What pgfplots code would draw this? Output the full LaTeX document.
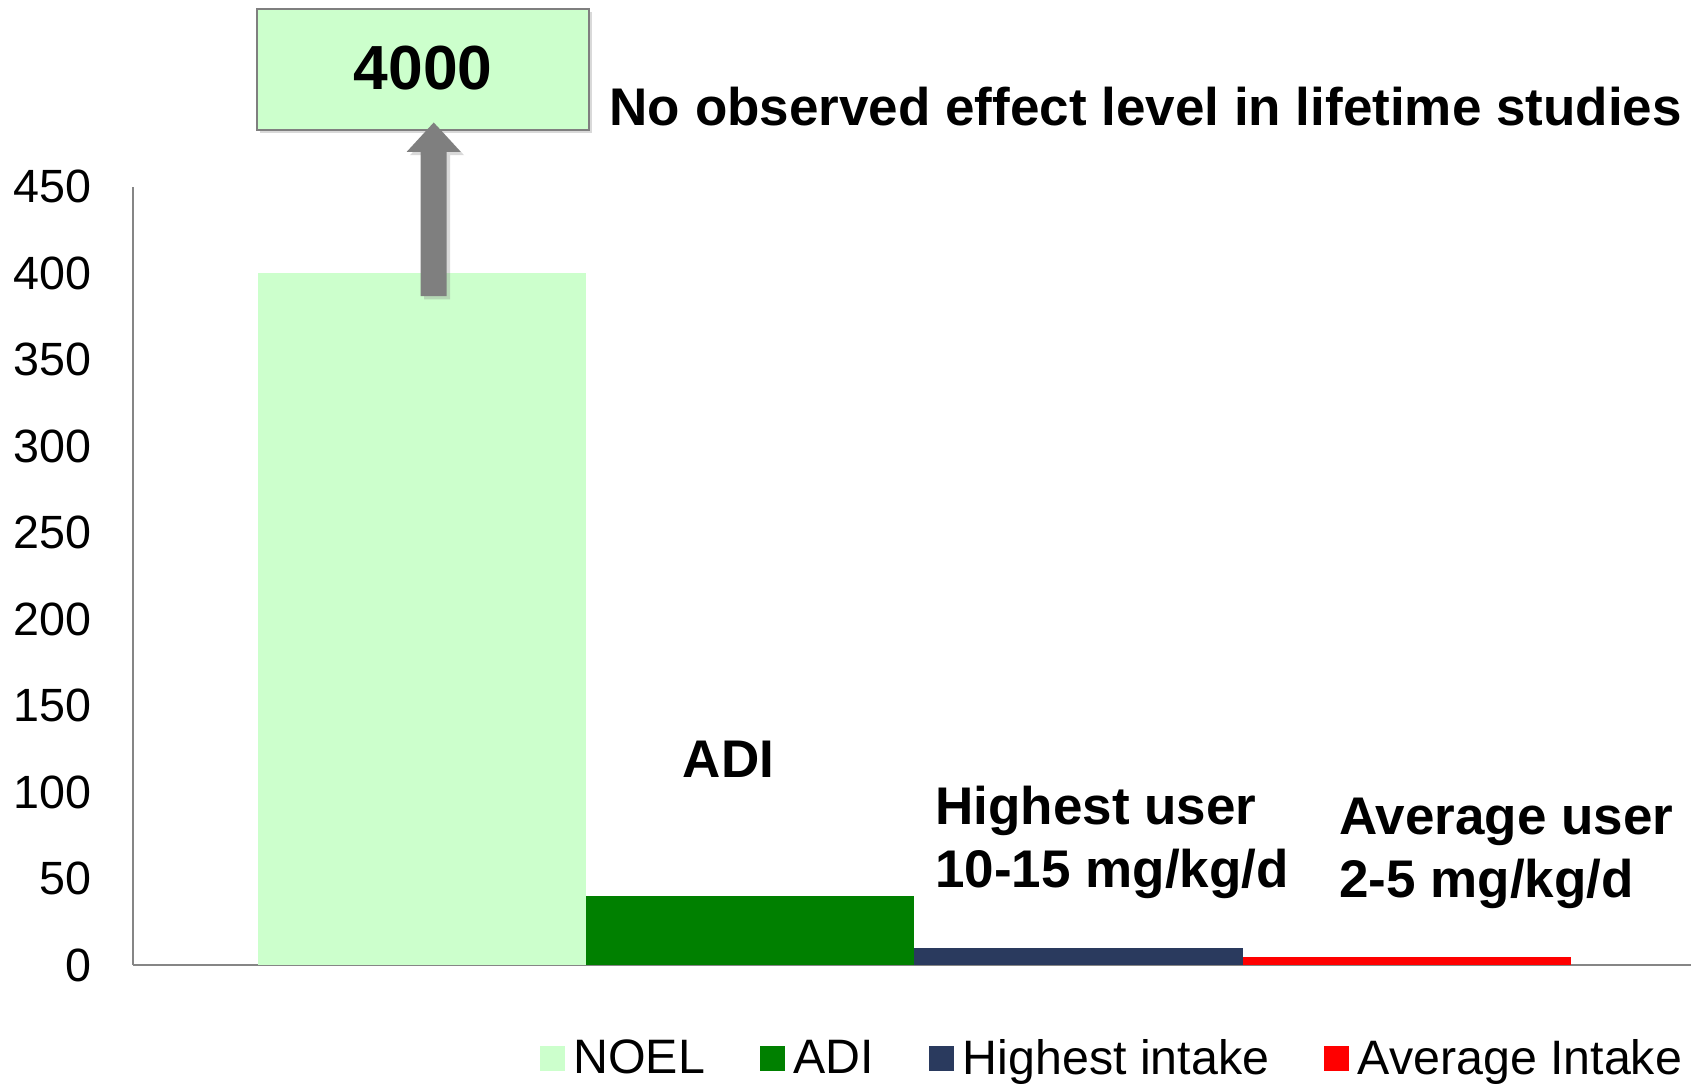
\documentclass[border=0pt]{standalone}
\usepackage{pgfplots}
\pgfplotsset{compat=1.18}
\usepackage{fontspec}
\setmainfont{Liberation Sans}
\usetikzlibrary{shadows}
\definecolor{noelc}{HTML}{CCFFCC}
\definecolor{adic}{HTML}{008000}
\definecolor{highc}{HTML}{2A3A5E}
\definecolor{avgc}{HTML}{FF0000}
\definecolor{axgray}{HTML}{868686}
\definecolor{arrgray}{HTML}{7F7F7F}
\pgfplotsset{sqleg/.style={legend image code/.code={\fill[##1,draw=none] (0pt,-3.75pt) rectangle (7.5pt,3.75pt); \path (8.6pt,0pt);}}}
\begin{document}
\begin{tikzpicture}
\useasboundingbox (-39.9pt,-35.7pt) rectangle (470.1pt,289.5pt);
\begin{axis}[
  at={(0,0)}, anchor=south west,
  width=467.4pt, height=233.55pt, scale only axis,
  xmin=-0.88, xmax=3.866, ymin=0, ymax=450,
  axis lines*=left,
  axis line style={axgray, line width=0.7pt},
  xtick=\empty, ytick={0,50,...,450},
  major tick length=0pt,
  yticklabel style={font=\fontsize{14}{16}\selectfont, anchor=east, inner sep=0pt, xshift=-12.3pt},
  /pgf/number format/assume math mode=true,
  ybar, bar width=1, bar shift=0pt,
  clip=false,
  legend columns=4,
  legend style={at={(rel axis cs:0.2606,-0.1207)}, anchor=west, draw=none, fill=none, inner sep=0pt,
    font=\fontsize{14.5}{16}\selectfont,
    /tikz/every even column/.append style={column sep=15pt},
    nodes={inner sep=1.5pt}},
]
\addplot[fill=noelc, draw=none, sqleg] coordinates {(0,400)};
\addlegendentry{NOEL}
\addplot[fill=adic, draw=none, sqleg] coordinates {(1,40)};
\addlegendentry{ADI}
\addplot[fill=highc, draw=none, sqleg] coordinates {(2,10)};
\addlegendentry{Highest intake}
\addplot[fill=avgc, draw=none, sqleg] coordinates {(3,4.5)};
\addlegendentry{Average Intake}

\draw[arrgray, fill=noelc, line width=0.7pt, drop shadow={shadow xshift=1pt, shadow yshift=-1pt, opacity=0.3}]
  (axis cs:-0.502,482.7) rectangle (axis cs:0.509,552.8);
\node[font=\bfseries\fontsize{18.7}{20}\selectfont, inner sep=0pt] at (axis cs:0.0035,518.5) {4000};
\fill[arrgray, drop shadow={shadow xshift=1pt, shadow yshift=-1pt, opacity=0.3}]
  (axis cs:-0.0036,386.7) -- (axis cs:0.0756,386.7) -- (axis cs:0.0756,470) -- (axis cs:0.1185,470)
  -- (axis cs:0.036,487) -- (axis cs:-0.0465,470) -- (axis cs:-0.0036,470) -- cycle;
\node[anchor=base west, font=\bfseries\fontsize{15.9}{18}\selectfont, inner sep=0pt] at (axis cs:0.570,485) {No observed effect level in lifetime studies};
\node[anchor=base, font=\bfseries\fontsize{15.9}{18}\selectfont, inner sep=0pt] at (axis cs:0.934,108.4) {ADI};
\node[anchor=base west, font=\bfseries\fontsize{15.9}{18}\selectfont, inner sep=0pt] at (axis cs:1.562,81.5) {Highest user};
\node[anchor=base west, font=\bfseries\fontsize{15.9}{18}\selectfont, inner sep=0pt] at (axis cs:1.562,45.1) {10-15 mg/kg/d};
\node[anchor=base west, font=\bfseries\fontsize{15.9}{18}\selectfont, inner sep=0pt] at (axis cs:2.793,75.3) {Average user};
\node[anchor=base west, font=\bfseries\fontsize{15.9}{18}\selectfont, inner sep=0pt] at (axis cs:2.793,38.9) {2-5 mg/kg/d};
\end{axis}
\end{tikzpicture}
\end{document}
